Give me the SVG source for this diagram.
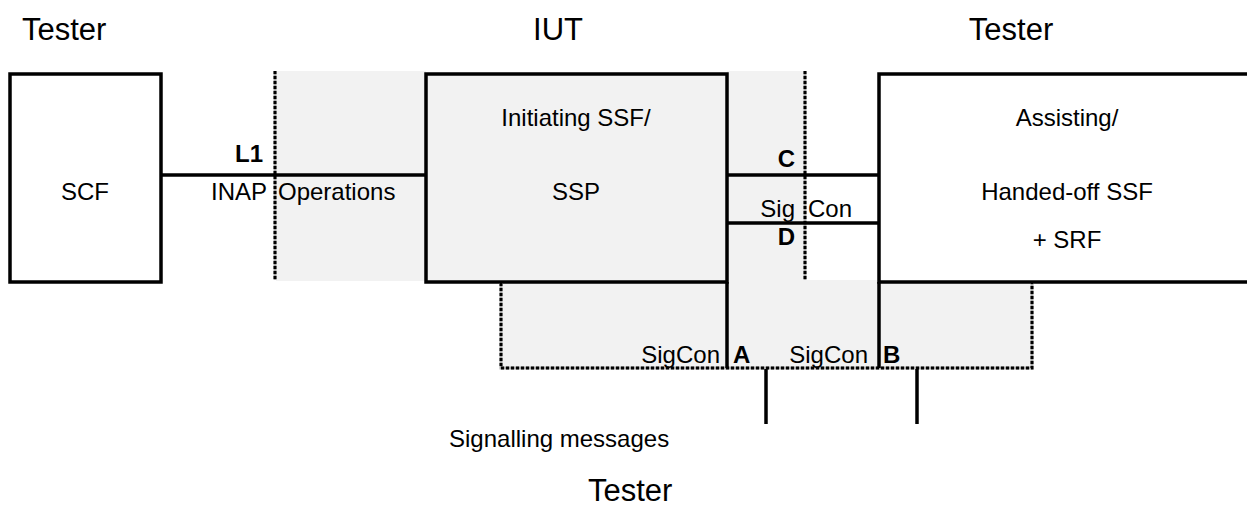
<svg xmlns="http://www.w3.org/2000/svg" width="1247" height="507" viewBox="0 0 1247 507">
  <style>
    .t { font-family: "Liberation Sans", Arial, sans-serif; font-size: 24px; fill: #000; }
    .title { font-family: "Liberation Sans", Arial, sans-serif; font-size: 31px; fill: #000; }
    .b { font-weight: bold; }
    .mid { text-anchor: middle; }
    .end { text-anchor: end; }
    .box { stroke: #000; stroke-width: 3.5; }
    .wire { stroke: #000; stroke-width: 3.5; fill: none; }
    .dot-bg { stroke: #a8a8a8; stroke-width: 3; fill: none; }
    .dot { stroke: #000; stroke-width: 3; stroke-dasharray: 3 2; fill: none; }
    .shade { fill: #f2f2f2; }
  </style>

  <rect width="1247" height="507" fill="#fff"/>

  <!-- shaded test areas -->
  <g id="shading">
    <rect class="shade" x="276" y="71" width="150" height="210"/>
    <rect class="shade" x="727" y="71" width="78" height="211"/>
    <rect class="shade" x="501" y="280" width="531" height="88"/>
  </g>

  <!-- titles -->
  <g id="titles">
    <text class="title" x="22" y="40">Tester</text>
    <text class="title mid" x="558" y="40">IUT</text>
    <text class="title mid" x="1011" y="40">Tester</text>
    <text class="title" x="588" y="501">Tester</text>
  </g>

  <g id="scf">
    <rect class="box" x="10" y="74" width="151" height="208" fill="#fff"/>
    <text class="t mid" x="85" y="200">SCF</text>
  </g>

  <g id="ssp">
    <rect class="box" x="426" y="74" width="301" height="208" fill="#f2f2f2"/>
    <text class="t mid" x="576" y="126">Initiating SSF/</text>
    <text class="t mid" x="576" y="200">SSP</text>
  </g>

  <g id="assisting">
    <rect class="box" x="879" y="74" width="400" height="208" fill="#fff"/>
    <text class="t mid" x="1067" y="126">Assisting/</text>
    <text class="t mid" x="1067" y="200">Handed-off SSF</text>
    <text class="t mid" x="1067" y="248">+ SRF</text>
  </g>

  <!-- test points (dotted boundaries) -->
  <g id="test-points">
    <line class="dot-bg" x1="275" y1="71" x2="275" y2="280"/>
    <line class="dot" x1="275" y1="71" x2="275" y2="280"/>
    <line class="dot-bg" x1="805" y1="71" x2="805" y2="280"/>
    <line class="dot" x1="805" y1="71" x2="805" y2="280"/>
    <path class="dot-bg" d="M501,283 V368 H1032 V283"/>
    <path class="dot" d="M501,283 V368 H1032 V283"/>
  </g>

  <g id="connectors">
    <line class="wire" x1="161" y1="175" x2="426" y2="175"/>
    <line class="wire" x1="727" y1="175" x2="879" y2="175"/>
    <line class="wire" x1="727" y1="223" x2="879" y2="223"/>
    <line class="wire" x1="727" y1="282" x2="727" y2="368"/>
    <line class="wire" x1="879" y1="282" x2="879" y2="368"/>
    <line class="wire" x1="766" y1="369" x2="766" y2="424"/>
    <line class="wire" x1="917" y1="369" x2="917" y2="424"/>
  </g>

  <g id="labels">
    <text class="t b end" x="263" y="162">L1</text>
    <text class="t end" x="267" y="200">INAP</text>
    <text class="t" x="278" y="200">Operations</text>
    <text class="t b end" x="795" y="167">C</text>
    <text class="t end" x="795" y="217">Sig</text>
    <text class="t" x="808" y="217">Con</text>
    <text class="t b end" x="795" y="245">D</text>
    <text class="t end" x="720" y="363">SigCon</text>
    <text class="t b" x="733" y="363">A</text>
    <text class="t end" x="868" y="363">SigCon</text>
    <text class="t b" x="883" y="363">B</text>
    <text class="t" x="449" y="447">Signalling messages</text>
  </g>
</svg>
